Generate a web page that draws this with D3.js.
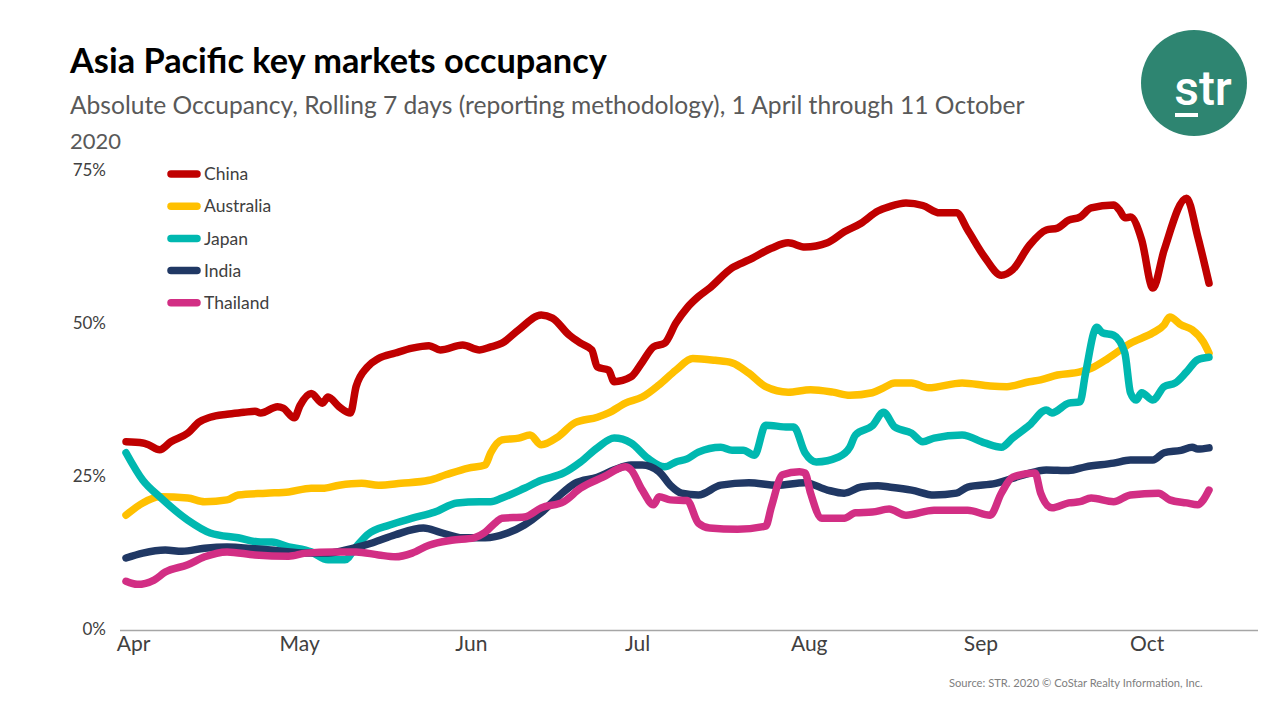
<!DOCTYPE html>
<html><head><meta charset="utf-8">
<script src="https://cdn.jsdelivr.net/npm/d3@7"></script>
<style>
html,body{margin:0;padding:0;background:#fff;}
svg{display:block;font-family:Lato,"Open Sans",sans-serif;}
</style></head>
<body><svg id="c" width="1280" height="720"></svg>
<script>
// ---- data: [days since 1 April 2020, occupancy %] ----
const seriesNames = ["China","Australia","Japan","India","Thailand"];
const seriesColors = ["#C00000","#FFC000","#00B8B0","#203864","#D22E84"];
const yTicks = [0,25,50,75];
const monthLabels = ["Apr","May","Jun","Jul","Aug","Sep","Oct"];

const china = [[0,30.6],[3,30.4],[4,30.1],[6,29.3],[8,30.6],[11,32.0],[13,33.8],[15,34.6],[18,35.1],[21,35.4],[23,35.6],[24,35.3],[27,36.3],[28,36.1],[30,34.5],[31,36.5],[33,38.5],[35,36.9],[36,37.9],[38,36.3],[40,35.3],[41,39.6],[43,42.8],[45,44.2],[48,45.1],[51,45.9],[54,46.3],[56,45.6],[60,46.4],[63,45.6],[65,46.1],[67,46.7],[70,48.9],[74,51.3],[76,50.8],[79,48.0],[81,46.7],[83,45.6],[84,42.8],[86,42.3],[87,40.4],[90,41.2],[92,43.6],[94,46.1],[96,46.7],[98,50.0],[100,52.5],[102,54.3],[104,55.7],[108,59.0],[111,60.3],[115,62.2],[118,63.1],[121,62.4],[125,63.1],[128,64.9],[131,66.3],[134,68.3],[136,69.0],[139,69.6],[142,69.2],[145,68.0],[148,68.0],[150,65.2],[153,60.8],[156,57.8],[158,58.7],[161,62.7],[164,65.2],[166,65.5],[168,66.8],[170,67.3],[172,68.8],[176,69.3],[177,68.5],[178,67.2],[179,67.3],[181,63.6],[183,55.7],[185,61.9],[189,70.4],[191,64.1],[193,56.5]];
const australia = [[0,18.6],[3,20.6],[6,21.6],[11,21.4],[14,20.8],[18,21.1],[20,21.9],[25,22.2],[29,22.4],[33,23.0],[35,23.0],[38,23.5],[42,23.8],[45,23.5],[49,23.8],[54,24.3],[57,25.2],[61,26.3],[64,26.8],[65,28.8],[67,30.9],[70,31.2],[72,31.7],[74,30.1],[77,31.4],[80,33.7],[84,34.6],[86,35.3],[89,36.9],[92,37.9],[95,39.9],[98,42.3],[101,44.2],[105,43.9],[108,43.5],[111,41.8],[114,39.6],[118,38.7],[122,39.1],[126,38.7],[129,38.2],[133,38.6],[135,39.4],[137,40.2],[140,40.2],[143,39.4],[149,40.2],[154,39.7],[157,39.6],[161,40.4],[163,40.7],[166,41.5],[170,42.0],[172,42.6],[175,44.2],[179,46.7],[183,48.4],[185,49.7],[186,51.0],[188,49.7],[190,48.9],[192,46.9],[193,45.1]];
const japan = [[0,28.8],[3,24.3],[6,21.6],[11,17.8],[15,15.7],[20,14.9],[24,14.2],[26,14.2],[29,13.4],[32,12.9],[33,12.6],[36,11.3],[39,11.3],[41,13.4],[43,15.4],[47,17.0],[51,18.1],[55,19.1],[59,20.6],[63,20.8],[65,20.8],[67,21.4],[71,23.0],[74,24.3],[78,25.5],[81,27.3],[84,29.6],[87,31.2],[90,30.4],[93,27.9],[96,26.5],[98,27.3],[100,27.8],[102,28.9],[106,29.7],[108,29.2],[110,29.2],[112,28.4],[114,33.3],[118,33.0],[119,33.0],[121,28.8],[123,27.3],[127,28.1],[129,29.7],[130,31.7],[133,33.2],[135,35.4],[137,33.0],[140,32.0],[142,30.6],[144,31.2],[149,31.7],[153,30.4],[156,29.7],[158,31.2],[161,33.3],[164,35.8],[165,35.3],[168,36.9],[170,37.1],[171,41.8],[173,49.3],[174,48.4],[176,48.0],[178,45.1],[179,38.6],[180,37.4],[181,38.6],[183,37.4],[185,39.6],[187,40.2],[189,42.0],[191,44.0],[193,44.4]];
const india = [[0,11.6],[3,12.4],[7,12.9],[10,12.7],[14,13.2],[18,13.4],[23,13.1],[27,12.8],[32,12.4],[36,12.4],[40,13.1],[44,14.1],[48,15.4],[53,16.5],[56,15.8],[60,14.9],[64,14.9],[68,15.7],[71,17.0],[74,19.0],[77,21.6],[80,23.8],[84,24.8],[87,26.0],[90,26.8],[92,26.8],[95,25.7],[97,23.5],[99,22.2],[102,21.9],[106,23.5],[111,23.9],[116,23.5],[121,23.9],[125,22.7],[128,22.2],[131,23.2],[134,23.4],[136,23.2],[140,22.7],[144,21.9],[148,22.2],[150,23.2],[155,23.8],[160,25.2],[164,26.0],[168,25.9],[171,26.5],[176,27.1],[179,27.6],[183,27.6],[185,28.8],[188,29.2],[190,29.7],[191,29.4],[193,29.6]];
const thailand = [[0,7.8],[2,7.3],[5,8.0],[7,9.3],[11,10.5],[14,11.8],[18,12.6],[23,12.1],[29,11.9],[32,12.4],[37,12.6],[41,12.6],[45,12.1],[48,11.8],[51,12.4],[54,13.7],[58,14.5],[62,14.9],[64,15.8],[66,17.5],[67,18.1],[71,18.3],[74,19.8],[78,20.8],[81,23.0],[85,24.8],[89,26.5],[90,26.0],[92,22.7],[94,20.3],[95,21.6],[97,21.1],[100,21.0],[102,17.3],[104,16.5],[109,16.3],[114,16.8],[115,19.9],[117,25.2],[120,25.7],[121,25.5],[122,22.2],[124,18.1],[128,18.1],[130,19.0],[133,19.1],[136,19.6],[139,18.6],[144,19.4],[150,19.4],[154,18.6],[156,22.2],[158,24.8],[162,25.5],[163,22.2],[165,19.8],[168,20.6],[170,20.8],[172,21.4],[176,20.8],[179,21.9],[184,22.2],[186,21.1],[189,20.6],[191,20.3],[192,21.1],[193,22.7]];
const seriesValues = [china, australia, japan, india, thailand];

// ---- drawing ----
const svg = d3.select("#c");
const start = new Date(2020,3,1), end = new Date(2020,9,11);
const x = d3.scaleTime().domain([start,end]).range([126,1209]);
const xLab = x.copy().range([133,1202]);
const y = d3.scaleLinear().domain([0,75]).range([629,170]);
const toDate = d => d3.timeDay.offset(start, d);

function fitText(sel, w){
  const n = sel.node(); const cur = n.getComputedTextLength();
  const fs = parseFloat(sel.attr("font-size"));
  sel.attr("font-size", fs*w/cur);
}

// title
fitText(svg.append("text").attr("x",70).attr("y",73).attr("font-size",30).attr("font-weight",700)
  .attr("fill","#000").text("Asia Pacific key markets occupancy"), 537);
fitText(svg.append("text").attr("x",70).attr("y",114).attr("font-size",21).attr("fill","#595959")
  .text("Absolute Occupancy, Rolling 7 days (reporting methodology), 1 April through 11 October"), 955);
svg.append("text").attr("x",70).attr("y",149).attr("font-size",22).attr("fill","#595959").text("2020");

// logo
svg.append("circle").attr("cx",1194).attr("cy",83).attr("r",53).attr("fill","#2E8571");
svg.append("text").attr("x",1203).attr("y",105).attr("text-anchor","middle").attr("font-size",48)
  .attr("font-weight",500).attr("fill","#fff").attr("font-family","Roboto, sans-serif").text("str");
svg.append("rect").attr("x",1175).attr("y",113).attr("width",23).attr("height",4).attr("fill","#fff");

// y axis
const gy = svg.append("g").attr("transform","translate(106,0)")
  .call(d3.axisLeft(y).tickValues(yTicks).tickSize(0).tickPadding(0).tickFormat(d=>d+"%"));
gy.select(".domain").remove();
gy.selectAll("text").attr("font-size",17).attr("fill","#404040").attr("font-family","Lato, sans-serif");

// x axis
svg.append("line").attr("x1",120).attr("x2",1258).attr("y1",630.5).attr("y2",630.5)
  .attr("stroke","#a6a6a6").attr("stroke-width",1.3);
const gx = svg.append("g").attr("transform","translate(0,633)")
  .call(d3.axisBottom(xLab).tickValues(monthLabels.map((m,i)=>new Date(2020,3+i,1)))
  .tickSize(0).tickPadding(0).tickFormat((d,i)=>monthLabels[i]));
gx.select(".domain").remove();
gx.selectAll("text").attr("font-size",21).attr("fill","#404040").attr("font-family","Lato, sans-serif").attr("dy","0.85em");

// lines
const line = d3.line().x(d=>x(toDate(d[0]))).y(d=>y(d[1])).curve(d3.curveMonotoneX);
svg.append("g").selectAll("path").data(seriesValues).join("path")
  .attr("d", line).attr("fill","none").attr("stroke",(d,i)=>seriesColors[i])
  .attr("stroke-width",7.5).attr("stroke-linecap","round").attr("stroke-linejoin","round");

// legend
const lg = svg.append("g").selectAll("g").data(seriesNames).join("g")
  .attr("transform",(d,i)=>`translate(0,${174+i*32.2})`);
lg.append("line").attr("x1",171).attr("x2",197).attr("y1",0).attr("y2",0)
  .attr("stroke",(d,i)=>seriesColors[i]).attr("stroke-width",7.5).attr("stroke-linecap","round");
lg.append("text").attr("x",204).attr("y",0).attr("dy","0.35em").attr("font-size",17.5)
  .attr("fill","#404040").text(d=>d);

// source
fitText(svg.append("text").attr("x",949).attr("y",687).attr("font-size",11).attr("fill","#808080")
  .text("Source: STR. 2020 \u00A9 CoStar Realty Information, Inc."), 254);
</script></body></html>
